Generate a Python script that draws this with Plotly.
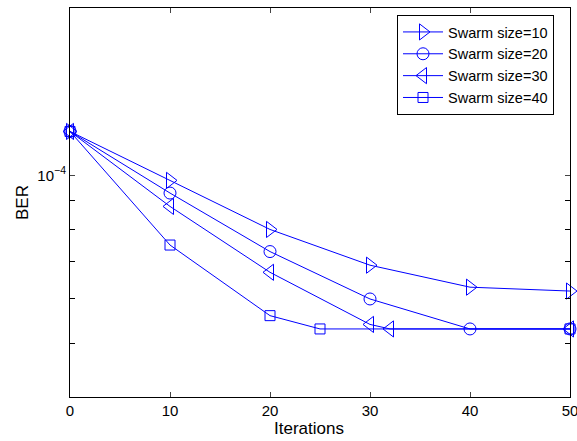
import plotly.graph_objects as go

iters_10 = [0, 10, 20, 30, 40, 50]
ber_10 = [1.2e-4, 9.8e-5, 8.0e-5, 6.9e-5, 6.3e-5, 6.2e-5]

iters_20 = [0, 10, 20, 30, 40, 50]
ber_20 = [1.2e-4, 9.3e-5, 7.3e-5, 6.0e-5, 5.3e-5, 5.3e-5]

iters_30 = [0, 10, 20, 30, 32, 50]
ber_30 = [1.2e-4, 8.8e-5, 6.7e-5, 5.4e-5, 5.3e-5, 5.3e-5]

iters_40 = [0, 10, 20, 25, 50]
ber_40 = [1.2e-4, 7.5e-5, 5.6e-5, 5.3e-5, 5.3e-5]

names = ["Swarm size=10", "Swarm size=20", "Swarm size=30", "Swarm size=40"]
symbols = ["triangle-right-open", "circle-open", "triangle-left-open", "square-open"]
sizes = [14, 12, 14, 10]

x_ticks = [0, 10, 20, 30, 40, 50]
y_major = [1e-4]
y_major_text = ["10<sup>−4</sup>"]
y_minor = [4e-5, 5e-5, 6e-5, 7e-5, 8e-5, 9e-5, 2e-4]

blue = "rgb(0,0,255)"
fig = go.Figure()
for xs, ys, name, sym, sz in zip([iters_10, iters_20, iters_30, iters_40],
                                 [ber_10, ber_20, ber_30, ber_40],
                                 names, symbols, sizes):
    fig.add_trace(go.Scatter(
        x=xs, y=ys, name=name, mode="lines+markers",
        line=dict(color=blue, width=1),
        marker=dict(symbol=sym, size=sz, color=blue, line=dict(color=blue, width=1)),
        cliponaxis=False,
    ))

font = "Liberation Sans, Arial, sans-serif"
W, H = 577, 441
L, R, T, B = 70, 7, 8, 44
fig.update_layout(
    width=W, height=H,
    margin=dict(l=L, r=R, t=T, b=B, autoexpand=False),
    paper_bgcolor="white", plot_bgcolor="white",
    font=dict(family=font, size=14, color="black"),
    showlegend=True,
    legend=dict(
        x=(554 - L) / (W - L - R), y=(H - B - 15) / (H - T - B),
        xanchor="right", yanchor="top",
        bgcolor="white", bordercolor="black", borderwidth=1,
        font=dict(family=font, size=14.5, color="black"),
        itemwidth=40,
    ),
    xaxis=dict(
        range=[0, 50], tickvals=x_ticks, ticks="inside", ticklen=5,
        showline=True, linecolor="black", linewidth=1, mirror="allticks",
        showgrid=False, zeroline=False, automargin=False,
        tickfont=dict(size=15), ticklabeloverflow="allow",
    ),
    yaxis=dict(
        type="log", range=[-4.398, -3.699],
        tickvals=y_major, ticktext=y_major_text,
        ticks="inside", ticklen=5,
        minor=dict(tickmode="array", tickvals=y_minor, ticks="inside", ticklen=5,
                   tickcolor="black", showgrid=False),
        showline=True, linecolor="black", linewidth=1, mirror="allticks",
        showgrid=False, zeroline=False, automargin=False,
        tickfont=dict(size=15),
    ),
    annotations=[
        dict(text="Iterations", xref="paper", yref="paper",
             x=(309 - L) / (W - L - R), y=-(428 - (H - B)) / (H - T - B),
             xanchor="center", yanchor="middle", showarrow=False,
             font=dict(size=17)),
        dict(text="BER", xref="paper", yref="paper",
             x=-(L - 23) / (W - L - R), y=(H - B - 203) / (H - T - B),
             xanchor="center", yanchor="middle", showarrow=False, textangle=-90,
             font=dict(size=17)),
    ],
)

fig.write_html("out.html", config={"displayModeBar": False},
               post_script="document.body.style.margin='0';document.body.style.overflow='hidden';")
